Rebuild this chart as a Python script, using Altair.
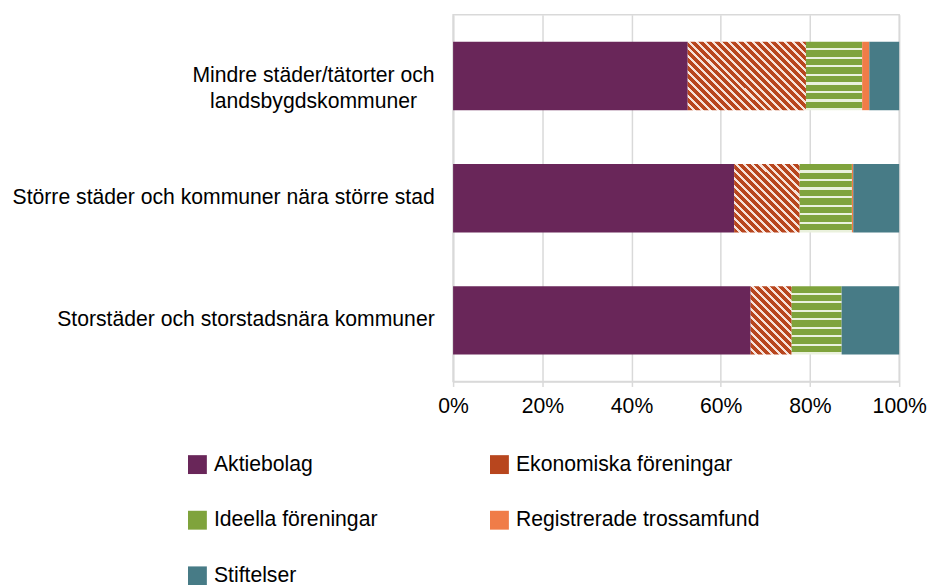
import altair as alt
import pandas as pd

# ---------------- data ----------------
categories = [
    "Mindre städer/tätorter och landsbygdskommuner",
    "Större städer och kommuner nära större stad",
    "Storstäder och storstadsnära kommuner",
]
series = [
    "Aktiebolag",
    "Ekonomiska föreningar",
    "Ideella föreningar",
    "Registrerade trossamfund",
    "Stiftelser",
]
aktiebolag = [52.6, 63.0, 66.7]
ekonomiska = [26.5, 14.7, 9.2]
ideella = [12.6, 11.7, 11.2]
registrerade = [1.6, 0.3, 0.0]
stiftelser = [6.7, 10.3, 12.9]

colors = ["#692659", "#B8461E", "#7FA33C", "#F07C48", "#477B86"]

all_vals = [aktiebolag, ekonomiska, ideella, registrerade, stiftelser]
rows = []
for i, cat in enumerate(categories):
    for j, s in enumerate(series):
        rows.append({"category": cat, "series": s, "value": all_vals[j][i], "order": j})
df = pd.DataFrame(rows)

# ---------------- style ----------------
FONT = "Liberation Sans"
GRID = "#D9D9D9"
PLOT_W, PLOT_H = 449, 369
BAR_H = 69


def diag_gradient(w, h, base, stripe, period=8.0, frac=0.38):
    """Diagonal (\\) stripes approximated by a linear gradient."""
    a = w / h
    k = (a + 1) / (a * a + 1)
    n = (w + h) / period
    stops = []
    kk = 0
    while kk / n < 1:
        o0 = kk / n
        o1 = min((kk + 1 - frac) / n, 1)
        o2 = min((kk + 1) / n, 1)
        stops += [
            {"offset": o0, "color": base},
            {"offset": o1, "color": base},
            {"offset": o1, "color": stripe},
            {"offset": o2, "color": stripe},
        ]
        kk += 1
    return {"gradient": "linear", "x1": 0, "y1": 1, "x2": k * a, "y2": 1 - k, "stops": stops}


def horiz_gradient(base, stripe, n=8, frac=0.25):
    stops = []
    for kk in range(n):
        o0 = kk / n
        o1 = (kk + 1 - frac) / n
        o2 = (kk + 1) / n
        stops += [
            {"offset": o0, "color": base},
            {"offset": o1, "color": base},
            {"offset": o1, "color": stripe},
            {"offset": o2, "color": stripe},
        ]
    return {"gradient": "linear", "x1": 0, "y1": 0, "x2": 0, "y2": 1, "stops": stops}


conds = []
for i, cat in enumerate(categories):
    total = sum(v[i] for v in all_vals)
    w = ekonomiska[i] / total * PLOT_W
    conds.append({
        "test": f"datum.series == 'Ekonomiska föreningar' && datum.category == '{cat}'",
        "value": diag_gradient(w, BAR_H, colors[1], "#F6E2DA"),
    })
conds.append({
    "test": "datum.series == 'Ideella föreningar'",
    "value": horiz_gradient(colors[2], "#EAF1DD"),
})

first = categories[0]
label_expr = (
    f"datum.label == '{first}' ? ['Mindre städer/tätorter och', 'landsbygdskommuner'] : datum.label"
)

FS = 21.3

chart = (
    alt.Chart(df)
    .mark_bar()
    .encode(
        y=alt.Y(
            "category:N",
            sort=categories,
            title=None,
            scale=alt.Scale(paddingInner=0.44, paddingOuter=0.22),
            axis=alt.Axis(
                labelExpr=label_expr,
                labelFontSize=FS,
                labelFont=FONT,
                labelColor="#000000",
                labelLimit=600,
                labelLineHeight=26,
                ticks=False,
                domainColor=GRID,
                domainWidth=1.5,
                labelAlign={"condition": {"test": f"datum.value == '{first}'", "value": "center"}, "value": "right"},
                labelPadding={"condition": {"test": f"datum.value == '{first}'", "value": 141}, "value": 19},
            ),
        ),
        x=alt.X(
            "value:Q",
            stack="normalize",
            title=None,
            scale=alt.Scale(domain=[0, 1], nice=False),
            axis=alt.Axis(
                format="%",
                values=[0, 0.2, 0.4, 0.6, 0.8, 1.0],
                labelFlush=False,
                labelFontSize=FS,
                labelFont=FONT,
                labelColor="#000000",
                tickSize=5,
                tickColor=GRID,
                tickWidth=1.5,
                domainColor=GRID,
                domainWidth=1.5,
                gridColor=GRID,
                gridWidth=1.5,
                labelPadding=9,
            ),
        ),
        color=alt.Color(
            "series:N",
            sort=series,
            scale=alt.Scale(domain=series, range=colors),
            condition=conds,
            legend=alt.Legend(
                title=None,
                orient="none",
                direction="horizontal",
                legendX=-268,
                legendY=442,
                columns=2,
                symbolType="square",
                symbolSize=361,
                symbolStrokeWidth=0,
                symbolOpacity=1,
                labelFontSize=FS,
                labelFont=FONT,
                labelColor="#000000",
                labelOffset=6,
                labelLimit=400,
                rowPadding=34,
                columnPadding=112,
            ),
        ),
        order=alt.Order("order:Q"),
    )
    .properties(
        width=PLOT_W,
        height=PLOT_H,
        autosize=alt.AutoSizeParams(type="none"),
        padding={"left": 448, "top": 5, "right": 28, "bottom": 210},
    )
    .configure_view(stroke=GRID, strokeWidth=1.5)
)

chart.save("out.html", embed_options={"renderer": "svg", "actions": False})
